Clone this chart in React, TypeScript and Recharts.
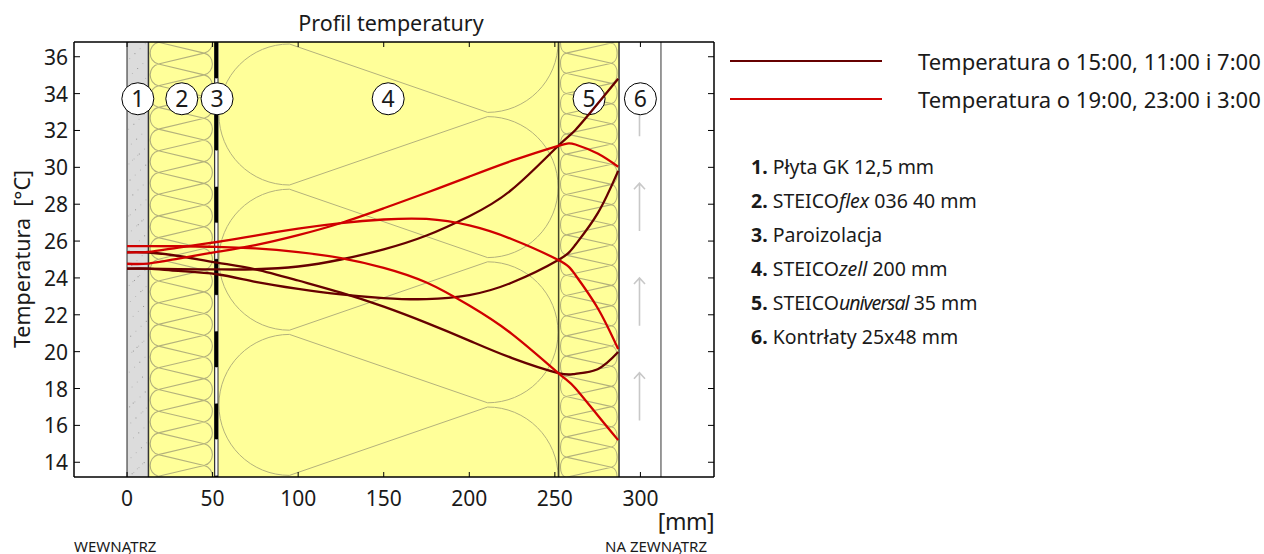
import React from 'react';
import {
  ComposedChart,
  Line,
  XAxis,
  YAxis,
  ReferenceArea,
  ReferenceLine,
  ReferenceDot,
  Legend,
} from 'recharts';

const FONT = '"Noto Sans", sans-serif';
const DARK = '#660000';
const RED = '#d00000';
const GRID_LINE = '#b4b27c';

// wall depth in mm, where each curve is sampled
const depth = [0, 12.5, 30, 52.5, 75, 100, 125, 150, 175, 200, 225, 252, 262, 275, 287];

// temperatures at 15:00, 11:00, 7:00
const temp15 = [24.5, 24.5, 24.47, 24.46, 24.47, 24.62, 25.0, 25.55, 26.3, 27.35, 28.8, 31.17, 32.03, 33.45, 34.81];
const temp11 = [24.5, 24.5, 24.38, 24.2, 23.79, 23.41, 23.11, 22.91, 22.85, 23.07, 23.75, 24.97, 25.8, 27.5, 29.81];
const temp07 = [25.39, 25.38, 25.19, 24.83, 24.47, 23.86, 23.2, 22.44, 21.56, 20.6, 19.65, 18.84, 18.8, 19.05, 19.98];
// temperatures at 19:00, 23:00, 3:00
const temp19 = [24.77, 24.78, 25.05, 25.41, 25.78, 26.32, 26.98, 27.78, 28.62, 29.5, 30.36, 31.17, 31.24, 30.75, 30.03];
const temp23 = [25.39, 25.41, 25.65, 25.95, 26.3, 26.67, 26.97, 27.17, 27.2, 26.85, 26.1, 24.97, 24.16, 22.37, 20.14];
const temp03 = [25.73, 25.73, 25.72, 25.69, 25.6, 25.4, 25.08, 24.55, 23.75, 22.5, 20.95, 18.84, 18.02, 16.55, 15.2];

const xTicks = [0, 50, 100, 150, 200, 250, 300];
const yTicks = [14, 16, 18, 20, 22, 24, 26, 28, 30, 32, 34, 36];

const legendLabels = ['Temperatura o 15:00, 11:00 i 7:00', 'Temperatura o 19:00, 23:00 i 3:00'];
const legendColors = [DARK, RED];

// layer borders in mm
const layerEdges = [0, 12.5, 50.9, 53.4, 252.2, 287.5, 312];
const edgeColors = ['#666666', '#333333', '', '', '#44442a', '#333333', '#777777'];
const badgeLabels = ['1', '2', '3', '4', '5', '6'];
const badgeDepth = [6.3, 32, 52.6, 152.6, 270, 300];
const BADGE_TEMP = 33.72;

const table = depth.map((d, i) => ({
  depth: d,
  temp15: temp15[i],
  temp11: temp11[i],
  temp07: temp07[i],
  temp19: temp19[i],
  temp23: temp23[i],
  temp03: temp03[i],
}));

const darkKeys = ['temp15', 'temp11', 'temp07'];
const redKeys = ['temp19', 'temp23', 'temp03'];

// loose insulation symbol: interlaced loops with straight runs between crossings
const Batting = ({ x, y, width, height, id, inset, period, phase, bulge }: any) => {
  const xL = x + inset;
  const xR = x + width - inset;
  const slope = period / 2 / (xR - xL);
  const parts: string[] = [];
  for (let yc = y + phase - period * 2; yc < y + height + period; yc += period) {
    parts.push(`M${xL} ${yc}C${xL - bulge} ${yc + slope * bulge} ${xL - bulge} ${yc + period - slope * bulge} ${xL} ${yc + period}`);
    const yr = yc + period / 2;
    parts.push(`M${xR} ${yr}C${xR + bulge} ${yr + slope * bulge} ${xR + bulge} ${yr + period - slope * bulge} ${xR} ${yr + period}`);
    parts.push(`M${xL} ${yc}L${xR} ${yr}`);
    parts.push(`M${xL} ${yc}L${xR} ${yc - period / 2}`);
  }
  return (
    <g>
      <clipPath id={id}>
        <rect x={x} y={y} width={width} height={height} />
      </clipPath>
      <rect x={x} y={y} width={width} height={height} fill="#ffff99" />
      <path d={parts.join('')} fill="none" stroke={GRID_LINE} strokeWidth={1.1} clipPath={`url(#${id})`} />
    </g>
  );
};

// blown-in cellulose symbol: big round lobes
const Lobes = ({ x, y, width, height }: any) => {
  const r = 70.5;
  const period = 145.2;
  const cL = x + 71;
  const cR = x + width - 71;
  const parts: string[] = [];
  for (let k = -1; k < 4; k++) {
    const cy = y + 72.5 + period * k;
    parts.push(`M${cL} ${cy - r}A${r} ${r} 0 0 0 ${cL} ${cy + r}`);
    parts.push(`M${cL} ${cy - r}L${cR} ${cy - period / 2 + r}`);
    parts.push(`M${cL} ${cy + r}L${cR} ${cy + period / 2 - r}`);
    const cr = cy + period / 2;
    parts.push(`M${cR} ${cr - r}A${r} ${r} 0 0 1 ${cR} ${cr + r}`);
  }
  return (
    <g>
      <clipPath id="zellClip">
        <rect x={x} y={y} width={width} height={height} />
      </clipPath>
      <rect x={x} y={y} width={width} height={height} fill="#ffff99" />
      <path d={parts.join('')} fill="none" stroke={GRID_LINE} strokeWidth={1} clipPath="url(#zellClip)" />
    </g>
  );
};

const Gypsum = ({ x, y, width, height }: any) => {
  const specks: React.ReactNode[] = [];
  for (let i = 0; i < 110; i++) {
    const fx = (i * 0.7548) % 1;
    const fy = (i * 0.5698) % 1;
    specks.push(
      <rect key={i} x={x + 1 + fx * (width - 3)} y={y + fy * height} width={1} height={1} fill={i % 3 ? '#b8b8b8' : '#959595'} />
    );
  }
  return (
    <g>
      <rect x={x} y={y} width={width} height={height} fill="#dcdcdc" />
      {specks}
    </g>
  );
};

const Foil = ({ x, y, width, height }: any) => {
  const gaps = [0, 1, 2, 3, 4, 5];
  return (
    <g>
      <rect x={x} y={y} width={width} height={height} fill="#000000" />
      {gaps.map((k) => (
        <rect key={k} x={x + 1} y={y + 36.5 + k * 72.2} width={width - 2} height={36} fill="#ffffff" stroke="#bbbbbb" strokeWidth={0.5} />
      ))}
    </g>
  );
};

const Battens = ({ x, y, width, height }: any) => {
  const tips = [0, 1, 2, 3];
  const cx = x + width / 2 - 0.5;
  return (
    <g>
      <rect x={x} y={y} width={width} height={height} fill="#ffffff" />
      {tips.map((k) => {
        const tip = y + 46.6 + k * 94.7;
        return (
          <path
            key={k}
            d={`M${cx} ${tip}V${tip + 47.7}M${cx - 5.5} ${tip + 6}L${cx} ${tip}L${cx + 5.5} ${tip + 6}`}
            fill="none"
            stroke="#c8c8c8"
            strokeWidth={1.6}
          />
        );
      })}
    </g>
  );
};

const BottomTick = ({ x, y, payload }: any) => (
  <g>
    <line x1={x} x2={x} y1={y} y2={y - 5} stroke="#000" strokeWidth={1} />
    <text x={x} y={y + 29} textAnchor="middle" fontSize={21} fontFamily={FONT} fill="#1a1a1a">
      {payload.value}
    </text>
  </g>
);

const TopTick = ({ x, y }: any) => <line x1={x} x2={x} y1={y} y2={y + 5} stroke="#000" strokeWidth={1} />;

const LeftTick = ({ x, y, payload }: any) => (
  <g>
    <line x1={x} x2={x + 6} y1={y} y2={y} stroke="#000" strokeWidth={1} />
    <text x={x - 6} y={y + 8} textAnchor="end" fontSize={21} fontFamily={FONT} fill="#1a1a1a">
      {payload.value}
    </text>
  </g>
);

const RightTick = ({ x, y }: any) => <line x1={x} x2={x - 6} y1={y} y2={y} stroke="#000" strokeWidth={1} />;

const LegendRows = () => (
  <div style={{ position: 'relative', width: 534, height: 80, fontFamily: FONT }}>
    {legendLabels.map((label, i) => (
      <div key={label}>
        <div style={{ position: 'absolute', left: 0, top: 12 + i * 38, width: 152, height: 2, background: legendColors[i] }} />
        <div style={{ position: 'absolute', left: 188, top: i * 38, fontSize: 22, lineHeight: '26px', color: '#1a1a1a', whiteSpace: 'nowrap' }}>
          {label}
        </div>
      </div>
    ))}
  </div>
);

const layerList: React.ReactNode[] = [
  <>Płyta GK 12,5 mm</>,
  <>STEICO<i>flex</i> 036 40 mm</>,
  <>Paroizolacja</>,
  <>STEICO<i>zell</i> 200 mm</>,
  <>STEICO<i style={{ letterSpacing: -1 }}>universal</i> 35 mm</>,
  <>Kontrłaty 25x48 mm</>,
];

const boxText: React.CSSProperties = {
  position: 'absolute',
  fontFamily: FONT,
  color: '#1a1a1a',
  whiteSpace: 'nowrap',
};

const App = () => {
  return (
    <div style={{ position: 'absolute', left: 0, top: 0, width: 1264, height: 554, background: '#fff' }}>
      <ComposedChart
        width={1264}
        height={554}
        data={table}
        margin={{ top: 32, right: 540, bottom: 27, left: 14 }}
      >
        <XAxis
          dataKey="depth"
          type="number"
          domain={[-31, 343]}
          ticks={xTicks}
          interval={0}
          height={50}
          tickSize={0}
          tickMargin={0}
          tick={<BottomTick />}
          tickLine={false}
          axisLine={{ stroke: '#000', strokeWidth: 1.5 }}
          allowDataOverflow
        />
        <XAxis
          xAxisId="top"
          orientation="top"
          dataKey="depth"
          type="number"
          domain={[-31, 343]}
          ticks={xTicks}
          interval={0}
          height={10}
          tickSize={0}
          tickMargin={0}
          tick={<TopTick />}
          tickLine={false}
          axisLine={{ stroke: '#000', strokeWidth: 1.5 }}
          allowDataOverflow
        />
        <YAxis
          type="number"
          domain={[13.2, 36.8]}
          ticks={yTicks}
          interval={0}
          width={60}
          tickSize={0}
          tickMargin={0}
          tick={<LeftTick />}
          tickLine={false}
          axisLine={{ stroke: '#000', strokeWidth: 1.5 }}
          allowDataOverflow
        />
        <YAxis
          yAxisId="right"
          orientation="right"
          type="number"
          domain={[13.2, 36.8]}
          ticks={yTicks}
          interval={0}
          width={10}
          tickSize={0}
          tickMargin={0}
          tick={<RightTick />}
          tickLine={false}
          axisLine={{ stroke: '#000', strokeWidth: 1.5 }}
          allowDataOverflow
        />

        <ReferenceArea x1={layerEdges[0]} x2={layerEdges[1]} stroke="none" shape={<Gypsum />} />
        <ReferenceArea
          x1={layerEdges[1]}
          x2={layerEdges[2]}
          stroke="none"
          shape={(p: any) => <Batting {...p} id="flexClip" inset={10} period={21.7} phase={0.3} bulge={11} />}
        />
        <ReferenceArea x1={layerEdges[3]} x2={layerEdges[4]} stroke="none" shape={<Lobes />} />
        <ReferenceArea
          x1={layerEdges[4]}
          x2={layerEdges[5]}
          stroke="none"
          shape={(p: any) => <Batting {...p} id="universalClip" inset={7.5} period={20.2} phase={11.1} bulge={7.5} />}
        />
        <ReferenceArea x1={layerEdges[5]} x2={layerEdges[6]} stroke="none" shape={<Battens />} />
        <ReferenceArea x1={layerEdges[2]} x2={layerEdges[3]} stroke="none" shape={<Foil />} />
        {layerEdges.map((edge, i) =>
          edgeColors[i] ? <ReferenceLine key={edge} x={edge} stroke={edgeColors[i]} strokeWidth={1.5} zIndex={300} /> : null
        )}

        {badgeLabels.map((label, i) => (
          <ReferenceDot
            key={label}
            x={badgeDepth[i]}
            y={BADGE_TEMP}
            r={16}
            fill="#fff"
            stroke="#000"
            strokeWidth={1}
            zIndex={310}
            label={{ value: label, position: 'center', fontSize: 23, fontFamily: FONT, fill: '#1a1a1a' }}
          />
        ))}

        {darkKeys.map((key) => (
          <Line key={key} dataKey={key} type="natural" stroke={DARK} strokeWidth={2.3} dot={false} isAnimationActive={false} />
        ))}
        {redKeys.map((key) => (
          <Line key={key} dataKey={key} type="natural" stroke={RED} strokeWidth={2.3} dot={false} isAnimationActive={false} />
        ))}

        <Legend
          layout="horizontal"
          verticalAlign="middle"
          content={<LegendRows />}
          wrapperStyle={{ left: 730, top: 48, width: 534, height: 80 }}
        />
      </ComposedChart>

      <div style={{ ...boxText, left: 0, width: 782, top: 9, textAlign: 'center', fontSize: 21.5, lineHeight: '28px' }}>
        Profil temperatury
      </div>
      <div
        style={{
          ...boxText,
          left: 22,
          top: 259,
          fontSize: 21.5,
          lineHeight: '26px',
          transform: 'translate(-50%, -50%) rotate(-90deg)',
        }}
      >
        Temperatura&nbsp;&nbsp;[°C]
      </div>
      <div style={{ ...boxText, right: 1264 - 714, top: 506, fontSize: 23, letterSpacing: -0.5, lineHeight: '30px' }}>[mm]</div>
      <div style={{ ...boxText, left: 74, top: 537, fontSize: 15, lineHeight: '18px' }}>WEWNĄTRZ</div>
      <div style={{ ...boxText, right: 1264 - 707, top: 537, fontSize: 15, lineHeight: '18px' }}>NA ZEWNĄTRZ</div>

      {layerList.map((item, i) => (
        <div key={i} style={{ ...boxText, left: 751, top: 154 + i * 34, fontSize: 19.5, lineHeight: '26px' }}>
          <b>{i + 1}.</b> {item}
        </div>
      ))}
    </div>
  );
};

export default App;
